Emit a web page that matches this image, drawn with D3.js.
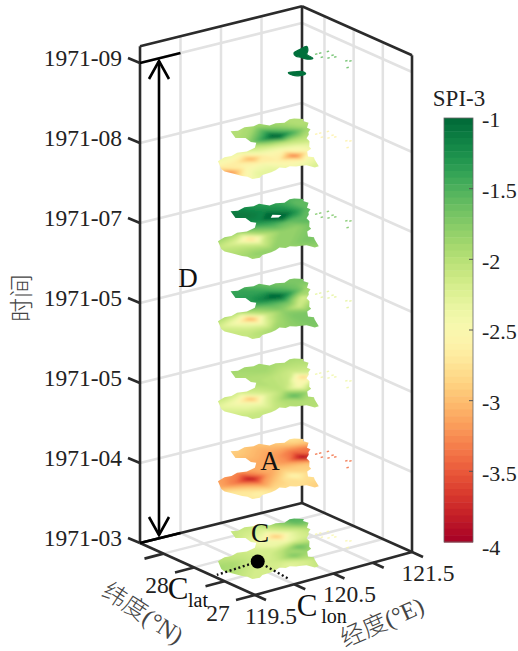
<!DOCTYPE html>
<html>
<head>
<meta charset="utf-8">
<script src="https://cdn.jsdelivr.net/npm/d3@7/dist/d3.min.js"></script>
<style>
body { margin: 0; background: #fff; }
text { font-family: "Liberation Serif", "Noto Sans CJK SC", serif; fill: #222; }
</style>
</head>
<body>
<svg id="main" width="518" height="651"></svg>
<script>
var timeLabels = ["1971-03", "1971-04", "1971-05", "1971-05", "1971-07", "1971-08", "1971-09"];
var lonTicks = [119.5, 120, 120.5, 121, 121.5];
var lonLabels = [119.5, 120.5, 121.5];
var latTicks = [27, 27.5, 28, 28.5];
var latLabels = [27, 28];
var cbTicks = [-1, -1.5, -2, -2.5, -3, -3.5, -4];

// grid nodes of the SPI-3 fields
var gridLon = [119.5, 119.7, 119.9, 120.1, 120.3, 120.5, 120.7, 120.9, 121.1, 121.3];
var gridLat = [27.09, 27.28, 27.47, 27.66, 27.85, 28.04, 28.23, 28.42, 28.61, 28.8];

// one row per gridLat, one column per gridLon
var spi0 = [ // 1971-03
    -2.2,-2.2,-2.2,-2.2,-2.2,-2.1,-2.1,-2,-2,-2,
    -2.2,-2.2,-2.2,-2.2,-2.2,-2.1,-2.1,-2,-2,-2,
    -2.1,-2.1,-2.2,-2.2,-2.3,-2.2,-2,-2,-2,-2,
    -2,-1.95,-2.1,-2.2,-2.1,-1.7,-1.9,-2,-2,-2,
    -1.9,-1.9,-1.95,-2.1,-2.2,-2,-1.6,-1.9,-2,-2,
    -2,-2,-2.05,-2.1,-2.2,-2.4,-2.4,-2.2,-2.1,-2,
    -2.2,-2.2,-2.2,-2.2,-2.3,-2.4,-3,-2.3,-2,-2,
    -2.1,-2.1,-2.1,-2.1,-2.1,-2.2,-2.3,-2,-1.6,-1.6,
    -2.1,-2.1,-2.1,-2.1,-2.1,-2.1,-2.1,-1.8,-1.5,-1.5,
    -2,-2,-2,-2,-2,-2,-2,-1.8,-1.5,-1.5
];
var spi1 = [ // 1971-04
    -2.8,-2.8,-2.8,-2.8,-2.8,-2.9,-2.9,-2.9,-2.9,-2.9,
    -2.7,-2.7,-2.7,-2.8,-2.8,-2.9,-2.9,-2.9,-2.9,-2.9,
    -2.8,-2.7,-2.6,-2.8,-2.8,-2.8,-2.8,-2.9,-2.9,-2.9,
    -2.9,-2.7,-2.9,-3.2,-2.9,-2.55,-2.85,-2.9,-2.9,-2.9,
    -3.1,-3.1,-3.35,-3.9,-3.2,-2.9,-2.9,-3,-3,-3,
    -3,-3.1,-3.2,-3.35,-3.1,-3.1,-3.25,-4,-3.4,-3.1,
    -3,-3,-3,-3,-3.1,-3.1,-3.2,-3.4,-3.4,-3.1,
    -2.95,-2.95,-2.95,-2.95,-2.95,-3,-3.1,-3.05,-2.9,-2.9,
    -2.9,-2.9,-2.9,-2.9,-2.9,-2.9,-3,-2.9,-2.7,-2.7,
    -2.9,-2.9,-2.9,-2.9,-2.9,-2.9,-2.9,-2.8,-2.7,-2.7
];
var spi2 = [ // 1971-05
    -2.1,-2.1,-2.1,-2.1,-2.1,-2.1,-2.1,-2.1,-2.1,-2.1,
    -2.1,-2.1,-2.1,-2.1,-2,-2,-2,-2,-2,-2,
    -2.2,-2.1,-2.1,-2.1,-2,-2,-2,-2,-2,-2,
    -2.2,-2.2,-2.3,-2.35,-2,-1.55,-1.9,-2,-2,-2,
    -2.2,-2.3,-2.45,-3.05,-2.25,-2,-2.5,-2,-2,-2,
    -2.1,-2.1,-2.1,-2.25,-2.1,-2,-2.1,-2.95,-2.2,-2,
    -2,-2,-2,-2,-2,-2,-2.05,-2.15,-2.1,-2,
    -1.95,-1.95,-1.95,-1.95,-1.95,-1.95,-1.9,-2,-2,-2,
    -1.9,-1.9,-1.9,-1.9,-1.9,-1.9,-1.9,-1.9,-1.9,-1.9,
    -1.9,-1.9,-1.9,-1.9,-1.9,-1.9,-1.9,-1.9,-1.9,-1.9
];
var spi3 = [ // 1971-05
    -2,-2,-2,-2,-2,-1.9,-1.8,-1.8,-1.7,-1.7,
    -2.1,-2.1,-2,-1.9,-1.8,-1.7,-1.7,-1.7,-1.7,-1.7,
    -2.1,-2.1,-2,-1.9,-1.8,-1.7,-1.7,-1.7,-1.7,-1.7,
    -2.1,-2.1,-2.2,-2.35,-1.9,-1.7,-1.7,-1.7,-1.7,-1.7,
    -2.1,-2.2,-2.45,-3.15,-2.15,-1.8,-2.15,-1.8,-1.7,-1.7,
    -1.9,-1.9,-2,-2.15,-1.8,-1.6,-1.6,-2.25,-1.9,-1.8,
    -1.5,-1.5,-1.5,-1.5,-1.4,-1.2,-0.85,-1.4,-1.9,-1.8,
    -1.35,-1.35,-1.35,-1.35,-1.35,-1.35,-1.4,-1.6,-1.7,-1.7,
    -1.4,-1.4,-1.4,-1.4,-1.4,-1.4,-1.55,-1.7,-1.7,-1.7,
    -1.5,-1.5,-1.5,-1.5,-1.5,-1.5,-1.6,-1.7,-1.7,-1.7
];
var spi4 = [ // 1971-07
    -1.9,-1.9,-1.9,-1.9,-1.9,-1.9,-1.8,-1.8,-1.8,-1.8,
    -1.9,-1.9,-1.9,-1.9,-1.9,-1.8,-1.8,-1.8,-1.8,-1.8,
    -2,-1.9,-1.8,-1.8,-1.8,-1.7,-1.7,-1.7,-1.7,-1.7,
    -2,-2,-2,-2.15,-1.8,-1.8,-1.7,-1.7,-1.7,-1.7,
    -2,-2.1,-2.25,-2.85,-2.05,-1.8,-1.8,-1.6,-1.6,-1.6,
    -1.8,-1.8,-1.9,-2.05,-1.7,-1.5,-1.6,-1.6,-1.6,-1.6,
    -1.3,-1.3,-1.3,-1.3,-1.3,-1.2,-0.45,-1.2,-1.6,-1.6,
    -1.1,-1.1,-1.1,-1.1,-1.1,-1.1,-1.2,-1.3,-1.6,-1.6,
    -1.1,-1.1,-1.1,-1.1,-1.1,-1.15,-1.3,-1.4,-1.5,-1.5,
    -1.2,-1.2,-1.2,-1.2,-1.2,-1.2,-1.3,-1.4,-1.5,-1.5
];
var spi5 = [ // 1971-08
    -2.3,-2.3,-2.3,-2.3,-2.3,-2.3,-2.3,-2.3,-2.3,-2.3,
    -2.4,-2.4,-2.3,-2.3,-2.3,-2.2,-2.2,-2.2,-2.2,-2.2,
    -2.7,-2.65,-2.3,-2.3,-2.5,-2.45,-2.3,-2.2,-2.2,-2.2,
    -2.85,-3.3,-2.55,-2.45,-2.65,-3.4,-2.55,-2.2,-2.2,-2.2,
    -2.6,-2.65,-2.65,-3.1,-2.55,-2.55,-2.4,-2.2,-2.2,-2.2,
    -2.3,-2.3,-2.4,-2.45,-2.2,-2.1,-2,-2,-2,-2,
    -2.1,-2.1,-2.1,-2.1,-1.9,-1.45,-0.85,-1.45,-1.9,-1.9,
    -2,-2,-2,-2,-2,-1.9,-1.45,-1.8,-2,-2,
    -2,-2,-2,-2,-2,-2,-1.9,-1.9,-2,-2,
    -2,-2,-2,-2,-2,-2,-2,-2,-2,-2
];
var spiFields = [spi0, spi1, spi2, spi3, spi4, spi5];

// above this the 1971-07 field is left blank
var blankLevel = -0.7;

// outline of the mainland part of the region
var outlineLon = [120.43,120.5,120.61,120.7,120.79,120.84,120.93,121.01,121.11,121.16,121.23,121.19,121.2,121.1,121.1,121.03,120.99,120.91,120.88,120.78,120.76,120.68,120.6,120.63,120.6,120.51,120.46,120.43,120.36,120.33,120.28,120.22,120.18,120.1,120.03,119.91,119.84,119.76,119.76,119.73,119.7,119.67,119.69,119.8,119.92,120,120.1,120.2,120.33,120.43,120.4,120.43,120.35];
var outlineLat = [28.63,28.6,28.64,28.61,28.64,28.53,28.55,28.51,28.56,28.55,28.48,28.44,28.36,28.25,28.19,28.13,28.07,28,27.91,27.78,27.72,27.68,27.56,27.5,27.45,27.26,27.26,27.36,27.39,27.4,27.44,27.43,27.48,27.44,27.42,27.41,27.36,27.38,27.46,27.51,27.64,27.72,27.8,28,28.05,28.04,28.08,28.05,28.09,28.2,28.25,28.38,28.44];

// offshore islands, one SPI value per month
var islandLon = [121.06,121.11,121.2,121.05,121.17,121.16,121.09,121.07,121.21,121.18];
var islandLat = [28.04,28.04,28.03,27.93,27.91,27.85,27.87,27.52,27.66,27.69];
var islandSpi = [-2.5,-3.4,-2.4,-2.3,-1.7,-2.6,-1.6];

// what is left of the region in 1971-09
var patch1Lon = [120.9,121.01,121.12,121.06,120.98,120.96,120.9,120.88,120.86];
var patch1Lat = [28.2,28.25,28.28,28.18,28.09,27.96,27.97,28.06,28.11];
var patch2Lon = [120.51,120.58,120.64,120.63,120.55,120.5];
var patch2Lat = [27.77,27.75,27.71,27.64,27.63,27.68];
var patchSpi = -1.05;

// point C and where its dotted lines end
var centroid = [120.11, 27.75];
var centroidLatEnd = [119.55, 27.69];
var centroidLonEnd = [120.05, 27.15];

var svg = d3.select("#main");

var uScale = d3.scaleLinear().domain([119.5, 121.5]).range([0, 1]),
    vScale = d3.scaleLinear().domain([27, 28.885]).range([0, 1]),
    zScale = d3.scaleLinear().domain([0, 6]).range([0, -480]),
    lonMin = 119.5, lonMax = 121.5, latMin = 27, latMax = 28.885, topT = 6.21;

// the box is seen from above, so project by hand from its floor corners
function project(lon, lat, t) {
    var u = uScale(lon), v = vScale(lat);
    return [255 + 157 * u - 115 * v + 5 * u * v,
            595 - 43 * u - 52 * v + 3 * u * v + zScale(t || 0)];
}

function segment(g, a, b, cls) {
    return g.append("line").attr("class", cls)
        .attr("x1", a[0]).attr("y1", a[1])
        .attr("x2", b[0]).attr("y2", b[1]);
}

// light grid
var grid = svg.append("g").attr("fill", "none");
var gridLonTicks = lonTicks.slice(1, 4), gridLatTicks = latTicks.slice(1);
gridLonTicks.forEach(function(lon) {
    segment(grid, project(lon, latMin, 0), project(lon, latMax, 0), "g");
    segment(grid, project(lon, latMax, 0), project(lon, latMax, topT), "g");
});
gridLatTicks.forEach(function(lat) {
    segment(grid, project(lonMin, lat, 0), project(lonMax, lat, 0), "g");
    segment(grid, project(lonMax, lat, 0), project(lonMax, lat, topT), "g");
});
d3.range(1, 7).forEach(function(t) {
    segment(grid, project(lonMin, latMax, t), project(lonMax, latMax, t), "g");
    segment(grid, project(lonMax, latMax, t), project(lonMax, latMin, t), "g");
});
grid.selectAll("line").attr("stroke", "#e2e2e2").attr("stroke-width", 2.5);

// dark frame
var frame = svg.append("g");
[[lonMin, latMax], [lonMax, latMax], [lonMax, latMin]].forEach(function(c) {
    segment(frame, project(c[0], c[1], 0), project(c[0], c[1], topT), "f");
});
[0, topT].forEach(function(t) {
    segment(frame, project(lonMin, latMax, t), project(lonMax, latMax, t), "f");
    segment(frame, project(lonMax, latMax, t), project(lonMax, latMin, t), "f");
});
segment(frame, project(lonMin, latMin, 0), project(lonMax, latMin, 0), "f");
segment(frame, project(lonMin, latMin, 0), project(lonMin, latMax, 0), "f");

lonTicks.forEach(function(lon) {
    var p = project(lon, latMin, 0);
    segment(frame, p, [p[0] + 11, p[1] + 5], "f");
});
latTicks.forEach(function(lat) {
    var p = project(lonMin, lat, 0);
    segment(frame, p, [p[0] - 19, p[1] + 5], "f");
});
timeLabels.forEach(function(d, t) {
    var p = project(lonMin, latMax, t);
    segment(frame, p, [p[0] - 12, p[1] - 5], "f");
});
frame.selectAll("line").attr("stroke", "#2b2b2b").attr("stroke-width", 2.6);

// colours
var color = d3.scaleSequential([-4, -1], d3.interpolateRdYlGn);

var defs = svg.append("defs");
defs.append("filter").attr("id", "soft")
    .append("feGaussianBlur").attr("stdDeviation", 1.6);
defs.append("filter").attr("id", "edge")
    .append("feGaussianBlur").attr("stdDeviation", 0.6);

var thresholds = d3.range(-4, -1, 0.04);
var contours = d3.contours()
    .size([gridLon.length, gridLat.length])
    .thresholds(thresholds);
var blankContour = d3.contours()
    .size([gridLon.length, gridLat.length])
    .thresholds([blankLevel]);

var cellLon = d3.scaleLinear().domain([0.5, gridLon.length - 0.5]).range([gridLon[0], gridLon[gridLon.length - 1]]),
    cellLat = d3.scaleLinear().domain([0.5, gridLat.length - 0.5]).range([gridLat[0], gridLat[gridLat.length - 1]]);

var line = d3.line().curve(d3.curveLinearClosed);
var roundLine = d3.line().curve(d3.curveCatmullRomClosed);

function ring(lons, lats, t) {
    return lons.map(function(lon, i) { return project(lon, lats[i], t); });
}

var maps = svg.append("g");

spiFields.forEach(function(field, t) {
    defs.append("clipPath").attr("id", "clip" + t)
        .append("path").attr("d", line(ring(outlineLon, outlineLat, t)));

    var path = d3.geoPath(d3.geoTransform({
        point: function(x, y) {
            var p = project(cellLon(x), cellLat(y), t);
            this.stream.point(p[0], p[1]);
        }
    }));

    var clipped = maps.append("g").attr("filter", "url(#edge)")
        .append("g").attr("clip-path", "url(#clip" + t + ")");

    clipped.append("g").attr("filter", "url(#soft)")
        .selectAll("path")
        .data(contours(field))
        .join("path")
        .attr("d", path)
        .attr("fill", function(d) { return color(d.value + 0.02); });

    clipped.append("g")
        .selectAll("path")
        .data(blankContour(field))
        .join("path")
        .attr("d", path)
        .attr("fill", "#fff");
});

// 1971-09 only has two small patches left
maps.append("g").attr("filter", "url(#edge)").selectAll("path")
    .data([[patch1Lon, patch1Lat], [patch2Lon, patch2Lat]])
    .join("path")
    .attr("d", function(d) { return roundLine(ring(d[0], d[1], 6)); })
    .attr("fill", color(patchSpi))
    .attr("stroke", color(patchSpi))
    .attr("stroke-width", 1.2);

// islands
islandSpi.forEach(function(v, t) {
    maps.append("g").attr("filter", "url(#edge)").attr("opacity", 0.85).selectAll("line")
        .data(islandLon)
        .join("line")
        .each(function(lon, i) {
            var a = project(lon - 0.015, islandLat[i], t),
                b = project(lon + 0.015, islandLat[i], t);
            d3.select(this).attr("x1", a[0]).attr("y1", a[1]).attr("x2", b[0]).attr("y2", b[1]);
        })
        .attr("stroke", color(v))
        .attr("stroke-width", 1.4);
});

// tick labels
svg.append("g").selectAll("text")
    .data(timeLabels)
    .join("text")
    .attr("x", 122)
    .attr("y", function(d, t) { return project(lonMin, latMax, t)[1] - 5; })
    .attr("dy", "0.33em")
    .attr("text-anchor", "end")
    .attr("font-size", 23.5)
    .text(function(d) { return d; });

svg.append("g").selectAll("text")
    .data(lonLabels)
    .join("text")
    .attr("x", function(d) { return project(d, latMin, 0)[0] + 16; })
    .attr("y", function(d) { return project(d, latMin, 0)[1] + 21; })
    .attr("dy", "0.33em")
    .attr("text-anchor", "middle")
    .attr("font-size", 23.5)
    .text(function(d) { return d; });

svg.append("g").selectAll("text")
    .data(latLabels)
    .join("text")
    .attr("x", function(d) { return project(lonMin, d, 0)[0] - 37; })
    .attr("y", function(d) { return project(lonMin, d, 0)[1] + 18; })
    .attr("dy", "0.33em")
    .attr("text-anchor", "middle")
    .attr("font-size", 23.5)
    .text(function(d) { return d; });

function axisTitle(txt, x, y, angle) {
    svg.append("text")
        .attr("transform", "translate(" + x + "," + y + ") rotate(" + angle + ")")
        .attr("text-anchor", "middle")
        .attr("dy", "0.35em")
        .attr("font-size", 24)
        .attr("font-weight", 300)
        .style("fill", "#444")
        .text(txt);
}
axisTitle("时间", 22, 298, -90);
axisTitle("纬度(°N)", 143, 613, 33);
axisTitle("经度(°E)", 382, 622, -24);

// D span with its two bars
var ann = svg.append("g").attr("stroke", "#000").attr("fill", "none").attr("stroke-width", 2.6);
segment(ann, project(lonMin, latMax, 6), project(120, latMax, 6), "a");
segment(ann, project(lonMin, latMax, 0), project(120, latMax, 0), "a");
var arrowX = 159, arrowTop = 61, arrowBottom = 535;
segment(ann, [arrowX, arrowTop], [arrowX, arrowBottom], "a");
ann.append("path").attr("d", d3.line()([[arrowX - 10, arrowTop + 18], [arrowX, arrowTop], [arrowX + 10, arrowTop + 18]]));
ann.append("path").attr("d", d3.line()([[arrowX - 10, arrowBottom - 18], [arrowX, arrowBottom], [arrowX + 10, arrowBottom - 18]]));

function note(txt, x, y, size) {
    return svg.append("text").attr("x", x).attr("y", y)
        .attr("text-anchor", "middle").attr("dy", "0.35em")
        .attr("font-size", size).style("fill", "#111").text(txt);
}
note("D", 188, 278, 27);
note("A", 270, 461, 27);
note("C", 260, 533, 27);

// point C and its projections
var cPt = project(centroid[0], centroid[1], 0);
var dots = svg.append("g").attr("stroke", "#111").attr("stroke-width", 2.4).attr("stroke-dasharray", "2 2.6");
segment(dots, cPt, project(centroidLatEnd[0], centroidLatEnd[1], 0), "d");
segment(dots, cPt, project(centroidLonEnd[0], centroidLonEnd[1], 0), "d");
svg.append("circle").attr("cx", cPt[0]).attr("cy", cPt[1]).attr("r", 7).attr("fill", "#000");

note("C", 178, 588, 31);
note("lat", 198, 600, 20);
note("C", 307, 605, 31);
note("lon", 334, 616, 20);

// colour bar
var cbScale = d3.scaleLinear().domain([-1, -4]).range([118, 542]);
var cbX = 444, cbW = 29;
var cbSteps = d3.range(64);
var cb = svg.append("g");
cb.selectAll("rect")
    .data(cbSteps)
    .join("rect")
    .attr("x", cbX)
    .attr("width", cbW)
    .attr("y", function(d) { return cbScale(-1 - 3 * d / 64); })
    .attr("height", function(d) { return cbScale(-1 - 3 * (d + 1) / 64) - cbScale(-1 - 3 * d / 64) + 0.5; })
    .attr("fill", function(d) { return color(-1 - 3 * (d + 0.5) / 64); });
cb.append("rect").attr("x", cbX).attr("y", 118).attr("width", cbW).attr("height", 424)
    .attr("fill", "none").attr("stroke", "#666").attr("stroke-width", 0.8);
cb.selectAll("line")
    .data(cbTicks.slice(1, 6))
    .join("line")
    .attr("x1", cbX + cbW - 4).attr("x2", cbX + cbW)
    .attr("y1", function(d) { return cbScale(d); })
    .attr("y2", function(d) { return cbScale(d); })
    .attr("stroke", "#555");
cb.selectAll("text")
    .data(cbTicks)
    .join("text")
    .attr("x", 482)
    .attr("y", function(d) { return cbScale(d) + (d === -4 ? 6 : 2); })
    .attr("dy", "0.33em")
    .attr("font-size", 22)
    .text(function(d) { return d; });
svg.append("text").attr("x", 459).attr("y", 98).attr("dy", "0.33em")
    .attr("text-anchor", "middle").attr("font-size", 23).text("SPI-3");
</script>
</body>
</html>
